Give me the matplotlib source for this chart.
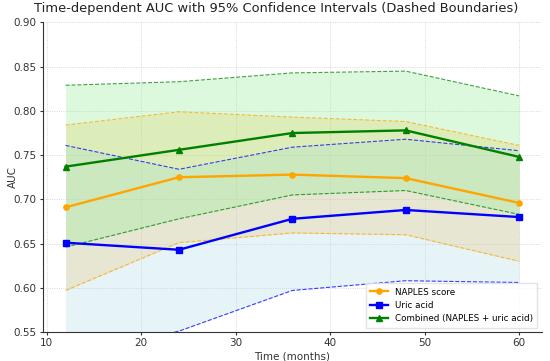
import matplotlib.pyplot as plt
import numpy as np

# Time points (months)
months = [12, 24, 36, 48, 60]

# NAPLES score AUC and 95% CI
naples_auc = [0.691, 0.725, 0.728, 0.724, 0.696]
naples_lo = [0.597, 0.651, 0.662, 0.660, 0.630]
naples_hi = [0.784, 0.799, 0.793, 0.788, 0.761]

# Uric acid AUC and 95% CI
uric_auc = [0.651, 0.643, 0.678, 0.688, 0.680]
uric_lo = [0.520, 0.551, 0.597, 0.608, 0.606]
uric_hi = [0.761, 0.734, 0.759, 0.768, 0.755]

# Combined AUC and 95% CI
comb_auc = [0.737, 0.756, 0.775, 0.778, 0.748]
comb_lo = [0.646, 0.678, 0.705, 0.710, 0.683]
comb_hi = [0.829, 0.833, 0.843, 0.845, 0.817]

fig, ax = plt.subplots(figsize=(5.5, 3.61), dpi=100)
fig.subplots_adjust(left=0.078, right=0.985, top=0.9377, bottom=0.0803)

series = [
    ("NAPLES score", naples_auc, naples_lo, naples_hi, "orange", "o", "orange", 0.2),
    ("Uric acid", uric_auc, uric_lo, uric_hi, "blue", "s", "lightblue", 0.3),
    ("Combined (NAPLES + uric acid)", comb_auc, comb_lo, comb_hi, "green", "^", "lightgreen", 0.3),
]

for label, auc, lo, hi, col, mk, fillcol, a in series:
    ax.plot(months, auc, marker=mk, color=col, lw=1.7, ms=3.8, label=label, zorder=3)
    ax.fill_between(months, lo, hi, color=fillcol, alpha=a, lw=0)
    ax.plot(months, lo, ls="--", color=col, lw=0.8, alpha=0.75)
    ax.plot(months, hi, ls="--", color=col, lw=0.8, alpha=0.75)

ax.set_ylim(0.55, 0.90)
ax.set_xlabel("Time (months)", fontsize=7.5, color="#333333", labelpad=2)
ax.set_ylabel("AUC", fontsize=7.5, color="#333333")
ax.yaxis.set_label_coords(-0.05, 0.5)
fig.suptitle("Time-dependent AUC with 95% Confidence Intervals (Dashed Boundaries)",
             x=0.503, y=0.995, fontsize=9.4, color="#222222")

ax.grid(True, ls=":", color="#cccccc", lw=0.6)
ax.set_axisbelow(True)
for s in ["top", "right"]:
    ax.spines[s].set_visible(False)
for s in ["left", "bottom"]:
    ax.spines[s].set_color("#333333")
ax.tick_params(labelsize=7.5, colors="#333333", length=2.5, width=0.8, pad=2)

ax.legend(loc="lower right", fontsize=6.3, frameon=True, fancybox=False,
          edgecolor="#dddddd", borderpad=0.5, handlelength=2)

plt.savefig("out.png", dpi=100)
